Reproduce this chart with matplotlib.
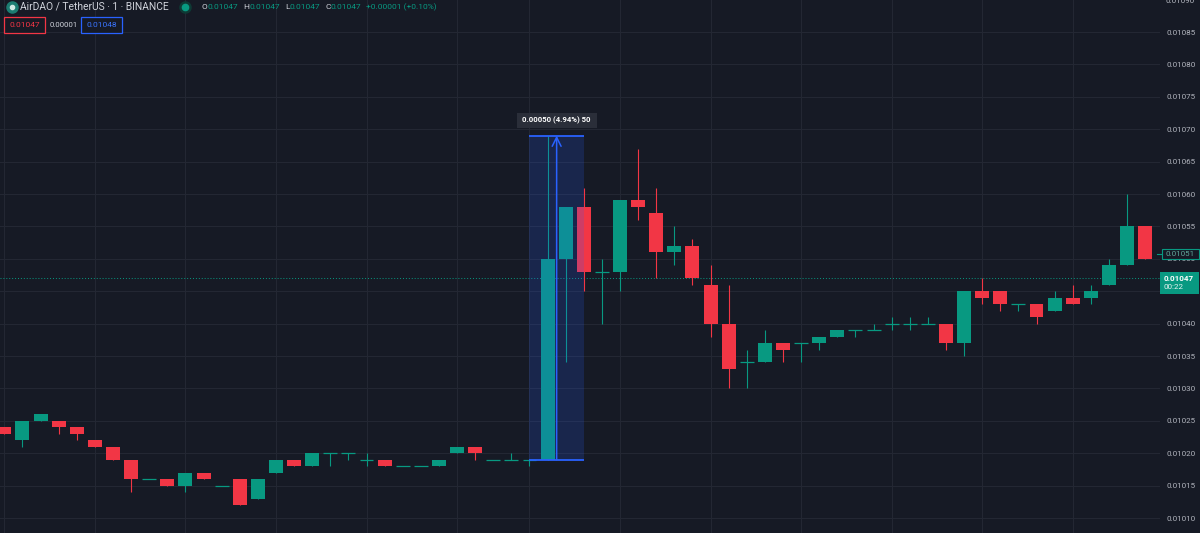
import matplotlib
matplotlib.use("Agg")
import matplotlib.pyplot as plt
from matplotlib.patches import Rectangle

# 1 minute candles, AirDAO / TetherUS (Binance)
opens = [0.01024, 0.01022, 0.01025, 0.01025, 0.01024, 0.01022, 0.01021, 0.01019,
         0.01016, 0.01016, 0.01015, 0.01017, 0.01015, 0.01016, 0.01013, 0.01017,
         0.01019, 0.01018, 0.01020, 0.01020, 0.01019, 0.01019, 0.01018, 0.01018,
         0.01018, 0.01020, 0.01021, 0.01019, 0.01019, 0.01019, 0.01019, 0.01050,
         0.01058, 0.01048, 0.01048, 0.01059, 0.01057, 0.01051, 0.01052, 0.01046,
         0.01040, 0.01034, 0.01034, 0.01037, 0.01037, 0.01037, 0.01038, 0.01039,
         0.01039, 0.01040, 0.01040, 0.01040, 0.01040, 0.01037, 0.01045, 0.01045,
         0.01043, 0.01043, 0.01042, 0.01044, 0.01044, 0.01046, 0.01049, 0.01055]
highs = [0.01024, 0.01025, 0.01026, 0.01025, 0.01024, 0.01022, 0.01021, 0.01019,
         0.01016, 0.01016, 0.01017, 0.01017, 0.01015, 0.01016, 0.01016, 0.01019,
         0.01019, 0.01020, 0.01020, 0.01020, 0.01020, 0.01019, 0.01018, 0.01018,
         0.01019, 0.01021, 0.01021, 0.01019, 0.01020, 0.01019, 0.01069, 0.01058,
         0.01061, 0.01050, 0.01059, 0.01067, 0.01061, 0.01055, 0.01053, 0.01049,
         0.01046, 0.01036, 0.01039, 0.01037, 0.01037, 0.01038, 0.01039, 0.01039,
         0.01040, 0.01041, 0.01041, 0.01041, 0.01040, 0.01045, 0.01047, 0.01045,
         0.01043, 0.01043, 0.01045, 0.01046, 0.01046, 0.01050, 0.01060, 0.01055]
lows = [0.01023, 0.01021, 0.01025, 0.01023, 0.01022, 0.01021, 0.01019, 0.01014,
        0.01016, 0.01015, 0.01014, 0.01016, 0.01015, 0.01012, 0.01013, 0.01017,
        0.01018, 0.01018, 0.01018, 0.01019, 0.01018, 0.01018, 0.01018, 0.01018,
        0.01018, 0.01020, 0.01019, 0.01019, 0.01019, 0.01018, 0.01019, 0.01034,
        0.01045, 0.01040, 0.01045, 0.01056, 0.01047, 0.01049, 0.01046, 0.01038,
        0.01030, 0.01030, 0.01034, 0.01034, 0.01034, 0.01036, 0.01038, 0.01038,
        0.01039, 0.01039, 0.01039, 0.01040, 0.01036, 0.01035, 0.01043, 0.01042,
        0.01042, 0.01040, 0.01042, 0.01043, 0.01043, 0.01046, 0.01049, 0.01050]
closes = [0.01023, 0.01025, 0.01026, 0.01024, 0.01023, 0.01021, 0.01019, 0.01016,
          0.01016, 0.01015, 0.01017, 0.01016, 0.01015, 0.01012, 0.01016, 0.01019,
          0.01018, 0.01020, 0.01020, 0.01020, 0.01019, 0.01018, 0.01018, 0.01018,
          0.01019, 0.01021, 0.01020, 0.01019, 0.01019, 0.01019, 0.01050, 0.01058,
          0.01048, 0.01048, 0.01059, 0.01058, 0.01051, 0.01052, 0.01047, 0.01040,
          0.01033, 0.01034, 0.01037, 0.01036, 0.01037, 0.01038, 0.01039, 0.01039,
          0.01039, 0.01040, 0.01040, 0.01040, 0.01037, 0.01045, 0.01044, 0.01043,
          0.01043, 0.01041, 0.01044, 0.01043, 0.01045, 0.01049, 0.01055, 0.01050]

price_ticks = [0.01010, 0.01015, 0.01020, 0.01025, 0.01030, 0.01035, 0.01040, 0.01045,
               0.01050, 0.01055, 0.01060, 0.01065, 0.01070, 0.01075, 0.01080, 0.01085]
time_grid_bars = [0, 5, 10, 15, 20, 25, 29, 34, 39, 44, 49, 54, 59]

last_price = 0.01047
countdown = "00:22"
other_price = 0.01051
measure_bars = (29, 32)
measure_prices = (0.01019, 0.01069)
measure_text = "0.00050 (4.94%) 50"
title = "AirDAO / TetherUS \u00b7 1 \u00b7 BINANCE"
ohlc = [("O", "0.01047"), ("H", "0.01047"), ("L", "0.01047"), ("C", "0.01047")]
change_text = "+0.00001 (+0.10%)"
box_values = ["0.01047", "0.00001", "0.01048"]

BG = "#161a25"
GRID = "#232733"
UP = "#089981"
DOWN = "#f23645"
BLUE = "#2962ff"
TXT = "#d1d4dc"
SCALE_TXT = "#b2b5be"
W, H = 1200, 533

plt.rcParams["font.family"] = ["Roboto", "DejaVu Sans"]

fig = plt.figure(figsize=(W / 100, H / 100), dpi=100)
fig.patch.set_facecolor(BG)
ax = fig.add_axes([0, 0, 1160 / W, 1])
ax.set_facecolor(BG)

# candles
body_w = 0.77
for i in range(len(opens)):
    o, h, l, c = opens[i], highs[i], lows[i], closes[i]
    col = UP if c >= o else DOWN
    if h > l:
        ax.vlines(i, l, h, color=col, lw=0.8, zorder=2)
    if c == o:
        ax.hlines(o, i - body_w / 2, i + body_w / 2, color=col, lw=0.9, zorder=3)
    else:
        ax.bar(i, abs(c - o), bottom=min(o, c), width=body_w, color=col,
               linewidth=0, zorder=3)

ax.axhline(last_price, color=UP, lw=0.7, ls=(0, (1, 2)), zorder=1)

# price measure tool
x0, x1 = measure_bars
lo, hi = measure_prices
ax.add_patch(Rectangle((x0, lo), x1 - x0, hi - lo, facecolor=BLUE, alpha=0.18,
                       linewidth=0, zorder=4))
ax.hlines([lo, hi], x0, x1, color=BLUE, lw=1.3, zorder=5)
xm = (x0 + x1) / 2
ax.annotate("", xy=(xm, hi), xytext=(xm, lo),
            arrowprops=dict(arrowstyle="->", color=BLUE, lw=1.1, shrinkA=0,
                            shrinkB=0, mutation_scale=16), zorder=5)

ax.set_xlim(-0.24, 63.82)
ax.set_ylim(0.01085 - 501 / 648000, 0.01085 + 32 / 648000)
ax.set_xticks(time_grid_bars)
ax.set_yticks(price_ticks)
ax.set_yticklabels([f"{p:.5f}" for p in price_ticks])
ax.yaxis.tick_right()
ax.tick_params(axis="y", length=0, pad=5, labelcolor=SCALE_TXT, labelsize=5.8)
ax.tick_params(axis="x", length=0, labelbottom=False)
ax.grid(color=GRID, lw=0.8)
ax.set_axisbelow(True)
for s in ax.spines.values():
    s.set_visible(False)

# overlay in pixel coordinates (y down)
ov = fig.add_axes([0, 0, 1, 1], zorder=10)
ov.set_xlim(0, W)
ov.set_ylim(H, 0)
ov.axis("off")
ov.patch.set_visible(False)

def px(xd, yd):
    X, Y = ax.transData.transform((xd, yd))
    return X, H - Y

renderer = fig.canvas.get_renderer()

def row(x, y, parts, size, gap=0, weight="normal"):
    for txt, col, g in parts:
        t = ov.text(x, y, txt, color=col, fontsize=size, va="center", ha="left",
                    fontweight=weight)
        x += t.get_window_extent(renderer).width + (gap if g else 0)

# price scale label for 0.01051
_, y51 = px(0, other_price)
ov.add_patch(Rectangle((1161.5, y51 - 3), 37.5, 9.5, facecolor=BG, edgecolor=UP, lw=0.8))
ov.plot([1157, 1161.5], [y51 + 1.5, y51 + 1.5], color=UP, lw=0.8)
ov.text(1180, y51 + 1.8, f"{other_price:.5f}", color="#5fa89b", fontsize=5.8,
        ha="center", va="center")

# last price label with countdown
_, y47 = px(0, last_price)
ov.add_patch(Rectangle((1160, y47 - 6), 39, 22, facecolor=UP, edgecolor="none"))
ov.text(1164, y47, f"{last_price:.5f}", color="white", fontsize=5.8, ha="left",
        va="center", fontweight="bold")
ov.text(1164, y47 + 9, countdown, color="#e8f4f1", fontsize=5.8, ha="left", va="center")

# top price label, cut off by the top edge
_, ytop = px(0, 0.01090)
ov.text(1165, ytop + 1, "0.01090", color=SCALE_TXT, fontsize=5.8, ha="left", va="center")

# measure label
xc, yhi = px(xm, hi)
ov.add_patch(Rectangle((xc - 40, yhi - 23), 80, 15, facecolor="#2a2e39", edgecolor="none"))
ov.text(xc, yhi - 15.5, measure_text, color="white", fontsize=5.6, ha="center",
        va="center", fontweight="bold")

# legend, top left
ov.plot([12], [7], marker="o", markersize=8, color="#1c7d72")
ov.plot([12], [7], marker="o", markersize=3, color="#cfe9e4")
row(20, 7, [(title, TXT, False)], 7.4)
ov.plot([185], [7], marker="o", markersize=8, color="#0e3a35")
ov.plot([185], [7], marker="o", markersize=4.5, color=UP)
parts = []
for k, v in ohlc:
    parts.append((k, TXT, False))
    parts.append((v, UP, True))
parts.append((change_text, UP, False))
row(202, 7, parts, 6.0, gap=5)

ov.add_patch(Rectangle((4, 17), 41, 16, facecolor=BG, edgecolor=DOWN, lw=0.9))
ov.text(24.5, 25, box_values[0], color=DOWN, fontsize=6, ha="center", va="center")
ov.text(50, 25, box_values[1], color=TXT, fontsize=5.6, ha="left", va="center")
ov.add_patch(Rectangle((81, 17), 41, 16, facecolor=BG, edgecolor=BLUE, lw=0.9))
ov.text(101.5, 25, box_values[2], color="#3a74ff", fontsize=6, ha="center", va="center")

fig.savefig("out.png", dpi=100, facecolor=BG)
